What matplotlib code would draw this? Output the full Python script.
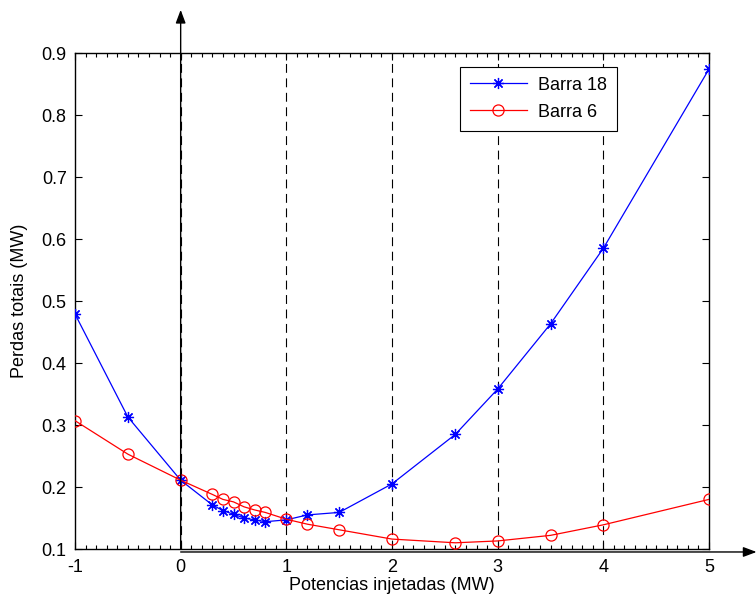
import matplotlib
matplotlib.use("Agg")
import matplotlib.pyplot as plt
from matplotlib.ticker import MultipleLocator

plt.rcParams["font.family"] = ["Liberation Sans", "DejaVu Sans"]
plt.rcParams["axes.unicode_minus"] = False

# injected power (MW)
p_inj = [-1, -0.5, 0, 0.3, 0.4, 0.5, 0.6, 0.7, 0.8, 1.0, 1.2, 1.5, 2.0, 2.6, 3.0, 3.5, 4.0, 5.0]

# total losses (MW)
barra18 = [0.479, 0.313, 0.211, 0.171, 0.162, 0.156, 0.150, 0.147, 0.144,
           0.147, 0.155, 0.159, 0.205, 0.285, 0.358, 0.463, 0.585, 0.874]
barra6 = [0.307, 0.253, 0.211, 0.188, 0.180, 0.176, 0.168, 0.163, 0.159,
          0.148, 0.140, 0.131, 0.116, 0.110, 0.113, 0.122, 0.139, 0.180]

grid_x = [0, 1, 2, 3, 4]
x_ticks = [-1, 0, 1, 2, 3, 4, 5]
y_ticks = [0.1, 0.2, 0.3, 0.4, 0.5, 0.6, 0.7, 0.8, 0.9]

fig = plt.figure(figsize=(7.56, 5.99), dpi=100)
ax = fig.add_axes([75 / 756, 1 - 549 / 599, 634 / 756, 496 / 599])

for gx in grid_x:
    ax.axvline(gx, color="k", lw=0.8, ls=(0, (8, 5)), zorder=1)

ax.plot(p_inj, barra18, color="b", lw=0.9, marker=(8, 2, 0), ms=8,
        mew=0.9, label="Barra 18", zorder=3)
ax.plot(p_inj, barra6, color="r", lw=0.9, marker="o", ms=8, mfc="none",
        mew=0.9, label="Barra 6", zorder=3)

ax.set_xlim(-1, 5)
ax.set_ylim(0.1, 0.9)
ax.set_xticks(x_ticks)
ax.set_xticklabels([str(v) for v in x_ticks])
ax.set_yticks(y_ticks)
ax.set_yticklabels([f"{v:.1f}" for v in y_ticks])
ax.xaxis.set_minor_locator(MultipleLocator(0.1))
ax.tick_params(which="both", direction="in", top=True, right=True, labelsize=13)
ax.tick_params(axis="x", pad=7)
ax.tick_params(axis="y", pad=6)
ax.tick_params(which="major", length=5, width=0.8)
ax.tick_params(which="minor", length=3, width=0.8)
for sp in ax.spines.values():
    sp.set_linewidth(1.0)

ax.set_xlabel("Potencias injetadas (MW)", fontsize=13, labelpad=1)
ax.set_ylabel("Perdas totais (MW)", fontsize=13, labelpad=10)

leg = ax.legend(loc="upper right", bbox_to_anchor=(0.855, 0.972), borderaxespad=0,
                fontsize=13, fancybox=False, edgecolor="k", framealpha=1,
                handlelength=3.2, handletextpad=0.6, borderpad=0.55,
                labelspacing=0.55)
leg.get_frame().set_linewidth(0.8)

# axis arrows drawn outside the box
ax.annotate("", xy=(0, 1.087), xycoords=("data", "axes fraction"),
            xytext=(0, 0), textcoords=("data", "axes fraction"),
            arrowprops=dict(arrowstyle="-|>,head_length=0.8,head_width=0.3",
                            color="k", lw=1, shrinkA=0, shrinkB=0),
            annotation_clip=False)
ax.annotate("", xy=(1.075, -0.006), xycoords="axes fraction",
            xytext=(0, -0.006), textcoords=("data", "axes fraction"),
            arrowprops=dict(arrowstyle="-|>,head_length=0.8,head_width=0.3",
                            color="k", lw=1, shrinkA=0, shrinkB=0),
            annotation_clip=False)

fig.savefig("out.png", dpi=100)
